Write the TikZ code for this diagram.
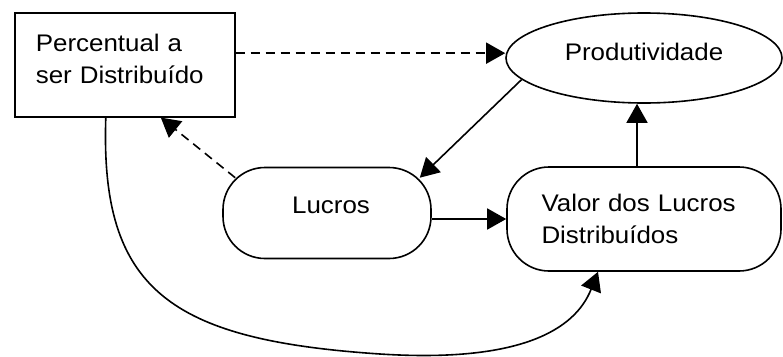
\documentclass[tikz,border=0pt]{standalone}
\usepackage{fontspec}
\setmainfont{Liberation Sans}[FakeStretch=1.08]
\usetikzlibrary{arrows.meta, shapes.geometric}

\begin{document}
\begin{tikzpicture}[
    x=1pt, y=-1pt,
    every node/.style={font=\fontsize{24}{31.5}\selectfont, align=center},
    box/.style={draw, line width=1.6pt, inner sep=0pt},
    roundbox/.style={box, rounded corners=42pt},
    arrow/.style={-{Triangle[length=19pt,width=21pt]}, line width=1.6pt},
    dasharrow/.style={arrow, dash pattern=on 9pt off 6pt}
]
    \useasboundingbox (0,0) rectangle (783,356);

    \node (pct) [draw, line width=1.6pt, rectangle, anchor=north west, align=left,
        inner xsep=21pt, inner ysep=21pt, text width=178pt,
        text height=18pt, text depth=44pt] at (14,12) {Percentual a\\ser Distribuído};
    \node (prod) [box, ellipse, minimum width=276pt, minimum height=90pt,
        text height=18pt, text depth=14pt] at (644,58) {Produtividade};
    \node (lucros) [roundbox, minimum width=208pt, minimum height=91pt,
        text height=18pt, text depth=18pt] at (327,213) {\hspace{8pt}Lucros};
    \node (valor) [roundbox, align=left, text width=205pt, minimum width=274pt, minimum height=104pt] at (644,219) {Valor dos Lucros\\Distribuídos};

    \draw [dasharrow] (pct.6) -- (pct.6 -| prod.west);
    \draw [arrow] (prod.190) -- ([shift={(-12,11)}]lucros.north east);
    \draw [dasharrow] ([shift={(13,11)}]lucros.north west) -- ([xshift=36pt]pct.south);
    \draw [arrow] (valor.west -| lucros.east) -- (valor.west);
    \draw [arrow] ([xshift=-7pt]valor.north) -- ([xshift=-7pt]prod.south);
    \draw [arrow] ([xshift=-19pt]pct.south) .. controls (100,290) and (170,340) .. (380,354)
        .. controls (520,363) and (575,330) .. ([xshift=-46pt]valor.south);
\end{tikzpicture}
\end{document}
